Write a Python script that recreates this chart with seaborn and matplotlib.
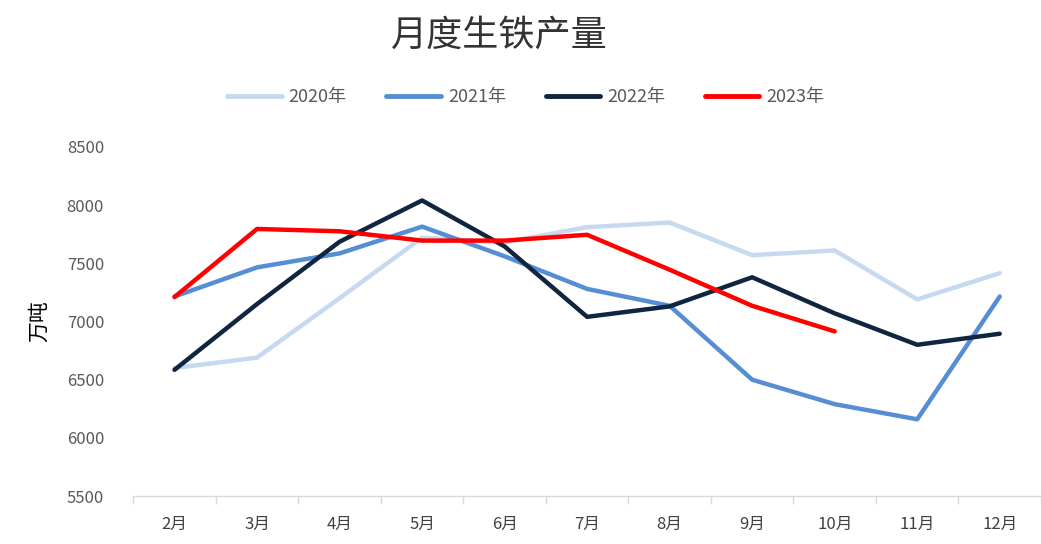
# 月度生铁产量 line chart, recreated with seaborn
import matplotlib
matplotlib.use('Agg')
import matplotlib.pyplot as plt
import numpy as np
import pandas as pd
import seaborn as sns

# data (万吨)
months = ['2月', '3月', '4月', '5月', '6月', '7月', '8月', '9月', '10月', '11月', '12月']
y2020 = [6600, 6690, 7200, 7720, 7680, 7810, 7850, 7570, 7610, 7190, 7415]
y2021 = [7215, 7465, 7585, 7815, 7560, 7280, 7135, 6500, 6290, 6160, 7215]
y2022 = [6585, 7150, 7685, 8040, 7645, 7040, 7130, 7380, 7070, 6800, 6895]
y2023 = [7210, 7795, 7775, 7695, 7695, 7745, 7445, 7135, 6915, np.nan, np.nan]
years = ['2020年', '2021年', '2022年', '2023年']
colors = ['#c6d9f1', '#558ed5', '#10253f', '#ff0000']

frames = []
for year, vals in zip(years, [y2020, y2021, y2022, y2023]):
    frames.append(pd.DataFrame({'月份': months, '产量': vals, '年份': year}))
df = pd.concat(frames, ignore_index=True).dropna()

sns.set_style('white')
plt.rcParams['font.family'] = ['Noto Sans CJK SC', 'DejaVu Sans']

fig = plt.figure(figsize=(10.41, 5.44), dpi=100)
ax = fig.add_axes([0.128, 0.088, 0.872, 0.642])

sns.lineplot(data=df, x='月份', y='产量', hue='年份', hue_order=years,
             palette=dict(zip(years, colors)), linewidth=3.2, sort=False,
             solid_capstyle='round', ax=ax, legend=False)

ax.set_xlim(-0.5, len(months) - 0.5)
ax.set_ylim(5500, 8500)
ax.set_yticks(range(5500, 8501, 500))
ax.set_xticks(range(len(months)))
ax.set_xticklabels(months)
# Excel-style tick marks between categories
ax.set_xticks(np.arange(-0.5, len(months), 1), minor=True)
ax.tick_params(axis='x', which='major', bottom=False, length=0, pad=14,
               labelsize=12, labelcolor='#404040')
ax.tick_params(axis='x', which='minor', bottom=True, direction='out',
               length=6, color='#d9d9d9', width=1)
ax.tick_params(axis='y', length=0, pad=21, labelsize=12, labelcolor='#595959')

for side in ['left', 'right', 'top']:
    ax.spines[side].set_visible(False)
ax.spines['bottom'].set_color('#d9d9d9')
ax.spines['bottom'].set_linewidth(1)

ax.set_xlabel('')
ax.set_ylabel('万吨', fontsize=15, labelpad=12, color='black')

fig.suptitle('月度生铁产量', x=0.48, y=0.935, va='center', fontsize=26,
             color='#333333', fontweight='light')

handles = [plt.Line2D([], [], color=c, linewidth=3.5, solid_capstyle='round') for c in colors]
fig.legend(handles, years, loc='center', bbox_to_anchor=(0.505, 0.822), ncol=4,
           frameon=False, fontsize=13, handlelength=3, columnspacing=2.2,
           handletextpad=0.4, labelcolor='#595959')

fig.savefig('out.png', dpi=100)
